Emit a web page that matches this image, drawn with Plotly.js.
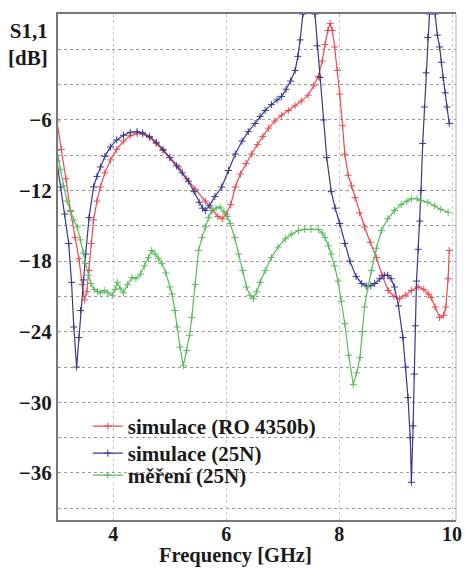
<!DOCTYPE html>
<html>
<head>
<meta charset="utf-8">
<script src="https://cdn.plot.ly/plotly-3.0.1.min.js"></script>
<style>html,body{margin:0;padding:0;background:#fff;}#chart{width:465px;height:568px;}</style>
</head>
<body>
<div id="chart"></div>
<script>
// Series names
const seriesNames = ["simulace (RO 4350b)", "simulace (25N)", "měření (25N)"];

// simulace (RO 4350b)
const redFreq = [3.00,3.08,3.16,3.24,3.32,3.39,3.45,3.49,3.53,3.57,3.61,3.65,3.71,3.77,3.85,3.95,4.06,4.18,4.30,4.42,4.52,4.64,4.76,4.88,5.00,5.16,5.30,5.45,5.63,5.75,5.85,5.93,6.00,6.08,6.16,6.25,6.35,6.45,6.55,6.65,6.75,6.86,6.98,7.10,7.22,7.33,7.45,7.55,7.63,7.70,7.75,7.80,7.84,7.88,7.92,7.97,8.01,8.06,8.10,8.16,8.22,8.28,8.36,8.45,8.55,8.66,8.76,8.87,8.97,9.07,9.17,9.28,9.40,9.50,9.58,9.63,9.70,9.78,9.85,9.89,9.93,9.95];
const redS11 = [-6.1,-8.5,-11.0,-13.7,-16.0,-17.8,-20.0,-21.3,-20.6,-18.8,-16.5,-14.5,-12.9,-11.7,-10.5,-9.4,-8.5,-7.8,-7.35,-7.15,-7.2,-7.5,-8.0,-8.6,-9.2,-10.0,-11.0,-11.9,-12.9,-13.7,-14.2,-14.4,-14.0,-13.2,-11.7,-10.6,-9.7,-8.9,-8.1,-7.4,-6.7,-6.1,-5.6,-5.2,-4.8,-4.4,-3.9,-3.1,-2.3,-1.0,0.4,1.6,2.2,1.6,0.2,-1.8,-3.8,-6.5,-8.9,-10.7,-11.6,-12.6,-13.9,-15.1,-16.4,-17.7,-19.2,-20.5,-21.0,-21.2,-20.9,-20.5,-20.2,-20.4,-20.8,-21.1,-21.9,-22.8,-22.6,-21.9,-19.5,-17.1];

// simulace (25N)
const blueFreq = [3.00,3.07,3.14,3.21,3.26,3.30,3.35,3.39,3.42,3.47,3.51,3.57,3.65,3.71,3.77,3.85,3.95,4.06,4.18,4.30,4.42,4.52,4.64,4.76,4.88,5.00,5.12,5.22,5.33,5.43,5.52,5.58,5.63,5.70,5.80,5.92,6.04,6.16,6.28,6.39,6.51,6.60,6.69,6.80,6.90,6.98,7.06,7.14,7.22,7.27,7.31,7.36,7.42,7.52,7.57,7.61,7.66,7.72,7.78,7.86,7.93,8.01,8.10,8.19,8.30,8.40,8.48,8.56,8.63,8.72,8.80,8.86,8.92,8.98,9.05,9.13,9.18,9.22,9.26,9.28,9.31,9.33,9.35,9.37,9.40,9.43,9.45,9.48,9.51,9.54,9.57,9.60,9.66,9.70,9.74,9.78,9.81,9.84,9.88,9.91,9.95];
const blueS11 = [-9.5,-11.7,-14.0,-16.5,-19.8,-23.6,-27.0,-24.5,-22.2,-19.6,-17.4,-14.3,-11.7,-10.8,-10.0,-9.1,-8.3,-7.7,-7.3,-7.05,-7.0,-7.1,-7.4,-7.9,-8.5,-9.2,-9.9,-10.5,-11.2,-12.1,-13.0,-13.5,-13.7,-13.3,-12.5,-11.7,-10.3,-8.9,-7.8,-7.0,-6.3,-5.7,-5.2,-4.7,-4.3,-4.0,-3.4,-2.7,-1.8,-0.6,0.8,3.0,6.0,6.0,3.0,0.3,-2.4,-6.0,-9.2,-12.1,-13.5,-14.8,-16.5,-18.0,-19.3,-19.9,-20.1,-20.1,-19.9,-19.5,-19.2,-19.2,-19.5,-20.2,-21.8,-24.5,-27.0,-29.6,-33.0,-36.8,-32.0,-27.6,-23.5,-19.7,-17.0,-14.6,-12.0,-8.0,-4.9,-2.0,1.0,3.0,6.0,3.0,1.2,0.2,-1.1,-2.4,-3.7,-4.9,-6.3];

// měření (25N)
const greenFreq = [3.00,3.06,3.12,3.18,3.24,3.30,3.36,3.42,3.47,3.51,3.56,3.60,3.66,3.72,3.77,3.84,3.90,3.98,4.03,4.07,4.12,4.18,4.25,4.33,4.40,4.48,4.55,4.62,4.68,4.74,4.80,4.86,4.93,5.00,5.04,5.09,5.13,5.18,5.24,5.30,5.35,5.39,5.45,5.51,5.57,5.63,5.69,5.74,5.82,5.89,5.96,6.02,6.07,6.15,6.22,6.29,6.36,6.42,6.48,6.54,6.60,6.69,6.80,6.92,7.05,7.16,7.28,7.39,7.50,7.63,7.70,7.75,7.81,7.86,7.92,7.98,8.04,8.10,8.17,8.25,8.31,8.37,8.41,8.45,8.51,8.57,8.66,8.75,8.86,8.98,9.10,9.20,9.28,9.38,9.45,9.57,9.69,9.80,9.93];
const greenS11 = [-8.6,-10.2,-11.6,-12.9,-13.8,-14.5,-15.1,-16.2,-17.3,-18.2,-19.2,-19.9,-20.4,-20.6,-20.7,-20.5,-20.7,-20.9,-20.4,-19.8,-20.3,-20.7,-20.0,-19.4,-19.5,-19.1,-18.4,-17.7,-17.1,-17.4,-17.8,-18.2,-19.0,-20.2,-20.8,-22.2,-23.6,-25.3,-26.9,-25.6,-24.3,-22.8,-20.0,-17.1,-16.0,-15.1,-14.3,-13.7,-13.5,-13.4,-13.8,-14.2,-14.8,-16.0,-17.4,-18.8,-20.2,-20.9,-21.2,-20.6,-19.8,-18.8,-17.7,-16.8,-16.1,-15.7,-15.4,-15.3,-15.3,-15.3,-15.6,-16.0,-16.7,-17.4,-18.4,-19.7,-21.4,-23.3,-26.0,-28.5,-27.5,-26.2,-24.0,-21.9,-20.2,-18.8,-16.9,-15.4,-14.4,-13.7,-13.2,-12.9,-12.7,-12.7,-12.85,-13.0,-13.3,-13.6,-13.85];

// Axis ticks
const xTicks = [4, 6, 8, 10];
const yTicks = [-36, -30, -24, -18, -12, -6];

const colors = ["#ec4a52", "#38388f", "#5cba5c"];
const legendIds = ["legend", "legend2", "legend3"];

function mk(x, y, name, color, leg) {
  return {
    x: x, y: y, name: name, type: "scatter", mode: "lines+markers", legend: leg,
    line: {color: color, width: 1.2},
    marker: {symbol: "cross-thin", size: 5, line: {color: color, width: 1}},
  };
}

const data = [
  mk(redFreq, redS11, seriesNames[0], colors[0], legendIds[0]),
  mk(blueFreq, blueS11, seriesNames[1], colors[1], legendIds[1]),
  mk(greenFreq, greenS11, seriesNames[2], colors[2], legendIds[2]),
];

function F(s) { return {family: "Liberation Serif", size: s || 21, weight: "bold", color: "#1a1a1a"}; }
function L(y) {
  return {x: 0.075, y: y, xanchor: "left", yanchor: "top", bgcolor: "rgba(0,0,0,0)",
          font: F(21), itemwidth: 30};
}

const layout = {
  width: 465, height: 568,
  margin: {l: 58, r: 9, t: 14, b: 48},
  paper_bgcolor: "#fff", plot_bgcolor: "#fff",
  showlegend: true,
  legend: L(0.2253),
  legend2: L(0.1719),
  legend3: L(0.1285),
  xaxis: {
    range: [3.02, 10.07], tickvals: xTicks,
    showgrid: true, gridcolor: "#c8c8c8", griddash: "dot", gridwidth: 1,
    showline: true, linecolor: "#777", linewidth: 2, mirror: true,
    ticks: "", zeroline: false, ticklabelstandoff: -5,
    tickfont: F(20),
  },
  yaxis: {
    range: [-40, 3], tickvals: yTicks,
    showgrid: true, gridcolor: "#999", griddash: "dot", gridwidth: 1,
    minor: {tickvals: [-39,-33,-27,-21,-15,-9,-3,0], showgrid: true, gridcolor: "#999", griddash: "dot", gridwidth: 1},
    showline: true, linecolor: "#777", linewidth: 2, mirror: false,
    ticks: "", zeroline: false,
    tickfont: F(21),
  },
  shapes: [
    {type: "line", xref: "paper", yref: "paper", x0: 1, x1: 1, y0: 0, y1: 1, line: {color: "#aaa", width: 1}}
  ],
  annotations: [
    {xref: "paper", yref: "paper", x: -0.02, y: 0.94, xanchor: "right", yanchor: "middle",
     text: "S1,1<br>[dB]", showarrow: false, align: "right", font: F(21)},
    {xref: "paper", yref: "paper", x: 0.447, y: -0.0949, xanchor: "center", yanchor: "bottom",
     text: "Frequency [GHz]", showarrow: false, borderpad: 0, font: F(20.5)}
  ],
};

Plotly.newPlot("chart", data, layout, {displayModeBar: false, staticPlot: true});
</script>
</body>
</html>
